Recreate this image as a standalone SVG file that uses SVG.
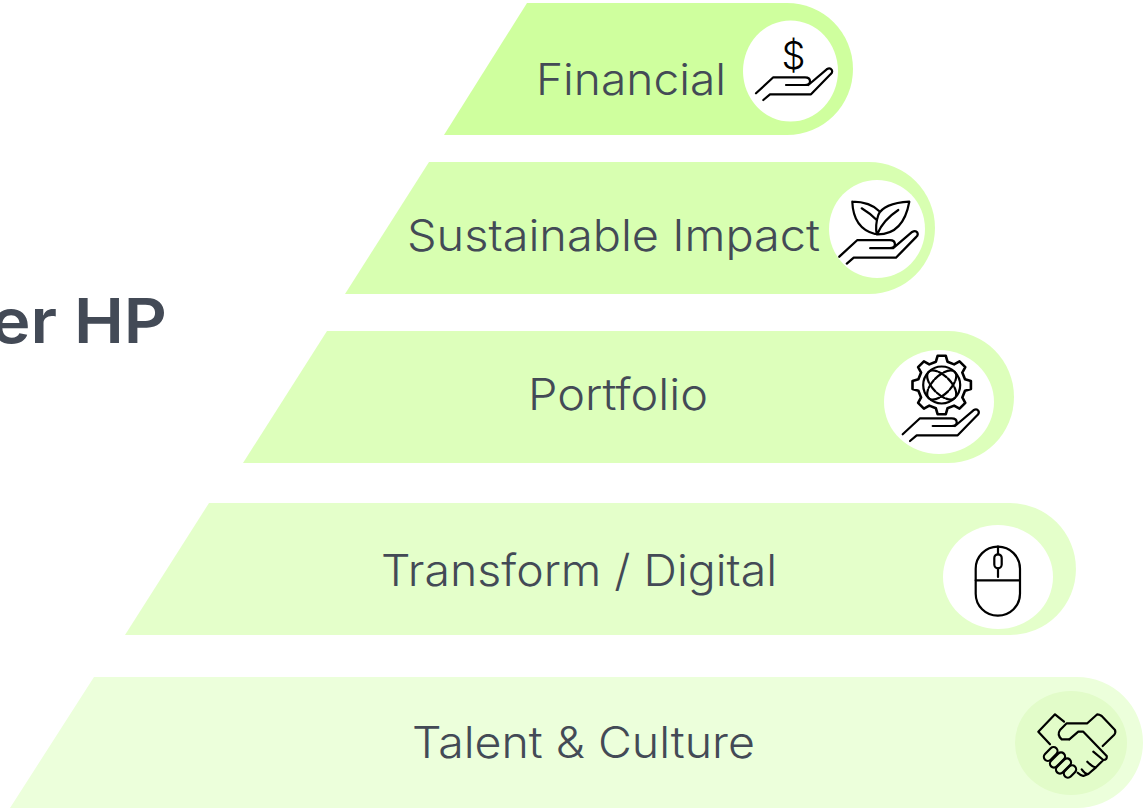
<svg xmlns="http://www.w3.org/2000/svg" xmlns:xlink="http://www.w3.org/1999/xlink" width="1146" height="808" viewBox="0 0 1146 808">
<style>
.label{font-family:"Inter","Noto Sans",sans-serif;font-size:44px;fill:#434a56;font-weight:300}
.title{font-family:"Inter","Noto Sans",sans-serif;font-size:62px;fill:#434a56;font-weight:600}
.ico{fill:none;stroke:#000;stroke-width:2.2;stroke-linecap:round;stroke-linejoin:round}
.disc{fill:#fff}
</style>
<defs>
<path id="hand" class="ico" d="M0 0L17.3 -16H49Q54 -16 54 -12Q54 -8.3 49 -8.3H30M52.3 -8.3L70.7 -24Q74 -26 75.7 -23.5Q77 -21 74.5 -19L55 1H14L7.3 6.7"/>
</defs>
<rect width="1146" height="808" fill="#fff"/>
<g id="title"><text class="title" x="-9" y="343" textLength="176" lengthAdjust="spacingAndGlyphs">er HP</text></g>
<g id="financial">
<path fill="#cfff9e" d="M444 135L527 3H787A66 66 0 0 1 787 135Z"/>
<ellipse class="disc" cx="790.500" cy="71" rx="47.500" ry="50.500"/>
<text class="label" x="536" y="95" textLength="190" lengthAdjust="spacingAndGlyphs">Financial</text>
<text x="793.500" y="69" text-anchor="middle" font-family="Inter, sans-serif" font-weight="300" font-size="38" fill="#000">$</text>
<use href="#hand" xlink:href="#hand" transform="translate(756 93.300)"/>
</g>
<g id="sustainable-impact">
<path fill="#d8ffb1" d="M345 294L429 162H869A66 66 0 0 1 869 294Z"/>
<ellipse class="disc" cx="877" cy="229" rx="48" ry="49"/>
<text class="label" x="407" y="251" textLength="413" lengthAdjust="spacingAndGlyphs">Sustainable Impact</text>
<path class="ico" d="M852.300 201.700Q870 201.700 880 211.700M852.300 201.700Q853.300 228.300 875 234M861.700 208.300Q870 213.300 876.700 220M909.300 201.700Q883.300 203.300 878.300 215Q875 225 876.700 234.300Q903.300 235 909.300 201.700ZM877.700 233.300Q883.300 220 898.300 210"/>
<use href="#hand" xlink:href="#hand" transform="translate(839.300 256.700) scale(1.030)"/>
</g>
<g id="portfolio">
<path fill="#ddffbb" d="M243 463L327 331H948A66 66 0 0 1 948 463Z"/>
<ellipse class="disc" cx="939" cy="402" rx="55" ry="52"/>
<text class="label" x="528" y="410" textLength="180" lengthAdjust="spacingAndGlyphs">Portfolio</text>
<g transform="translate(941.700 385)" class="ico">
<path stroke-width="2.600" d="M-5.800 -23.300L-4.100 -29.200H4.100L5.800 -23.300L12.400 -20.600L17.800 -23.600L23.600 -17.800L20.600 -12.400L23.300 -5.800L29.200 -4.100V4.100L23.300 5.800L20.600 12.400L23.600 17.800L17.800 23.600L12.400 20.600L5.800 23.300L4.100 29.200H-4.100L-5.800 23.300L-12.400 20.600L-17.800 23.600L-23.600 17.800L-20.600 12.400L-23.300 5.800L-29.200 4.100V-4.100L-23.300 -5.800L-20.600 -12.400L-23.600 -17.800L-17.800 -23.600L-12.400 -20.600Z"/>
<circle r="18.500"/>
<ellipse rx="18.500" ry="9" transform="rotate(45)" stroke-dasharray="9 2"/>
<ellipse rx="18.500" ry="9" transform="rotate(-45)" stroke-dasharray="9 2"/>
</g>
<use href="#hand" xlink:href="#hand" transform="translate(902.700 434.300)"/>
</g>
<g id="transform-digital">
<path fill="#e4ffca" d="M125 635L209 503H1010A66 66 0 0 1 1010 635Z"/>
<ellipse class="disc" cx="998" cy="577" rx="55" ry="52"/>
<text class="label" x="381" y="586" textLength="396" lengthAdjust="spacingAndGlyphs">Transform / Digital</text>
<g class="ico">
<rect x="975.700" y="546.700" width="44.300" height="69" rx="22"/>
<path d="M975.700 580.300H1020M998 546.700V554.300M998 568.300V577"/>
<rect x="994.300" y="554.300" width="7.400" height="14" rx="3.700"/>
</g>
</g>
<g id="talent-culture">
<path fill="#ecffdb" d="M10 808L94 677H1077A66 65.500 0 0 1 1077 808Z"/>
<ellipse fill="#e2fcc9" cx="1071" cy="743" rx="56" ry="52"/>
<text class="label" x="412" y="758" textLength="343" lengthAdjust="spacingAndGlyphs">Talent &amp; Culture</text>
<g class="ico">
<path d="M1064 721.700L1055 714.300L1038.300 731.700L1050 744.300"/>
<path d="M1069.300 739.300H1061.700Q1056.700 735 1060 730L1066.700 723.300H1087.300L1097.300 714.300Q1099.300 714.300 1101.700 716L1115 730Q1116 732.700 1114 735L1102.700 746"/>
<path d="M1069.300 739.300L1078.300 731.700H1083.300L1106.700 756Q1107.300 760 1103.300 760L1093.300 751.700M1103.300 760L1096 767.300Q1092.700 767.300 1087.300 761.700M1096 767.300L1088.300 774Q1085 774 1081.700 769.300M1088.300 774L1083.300 776Q1080 775 1077.700 772.700"/>
<rect x="-8" y="-4" width="16" height="8" rx="4" transform="translate(1050.700 754) rotate(-45)"/>
<rect x="-9" y="-4" width="18" height="8" rx="4" transform="translate(1057.500 760) rotate(-45)"/>
<rect x="-9" y="-4" width="18" height="8" rx="4" transform="translate(1063.500 766) rotate(-45)"/>
<rect x="-7" y="-4" width="14" height="8" rx="4" transform="translate(1070 771.500) rotate(-45)"/>
</g>
</g>
</svg>
